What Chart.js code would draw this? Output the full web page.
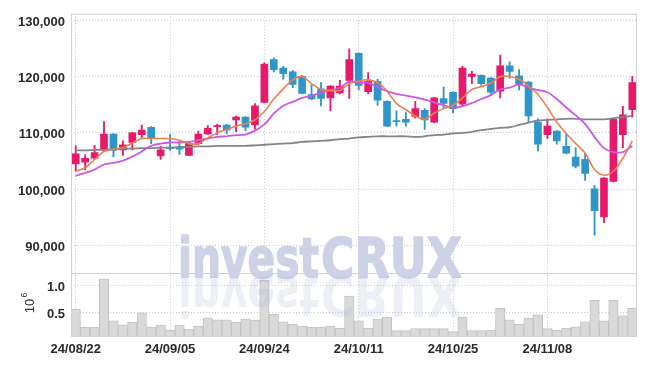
<!DOCTYPE html>
<html>
<head>
<meta charset="utf-8">
<script src="https://cdn.jsdelivr.net/npm/chart.js@4.4.1/dist/chart.umd.min.js"></script>
<style>
    html, body { margin: 0; padding: 0; background: #ffffff; }
    #wrap { width: 645px; height: 366px; }
</style>
</head>
<body>
<div id="wrap"><canvas id="stockChart" width="645" height="366"></canvas></div>
<script>
const dates = [
    "24/08/22","24/08/23","24/08/26","24/08/27","24/08/28","24/08/29","24/08/30","24/09/02","24/09/03","24/09/04",
    "24/09/05","24/09/06","24/09/09","24/09/10","24/09/11","24/09/12","24/09/13","24/09/19","24/09/20","24/09/23",
    "24/09/24","24/09/25","24/09/26","24/09/27","24/09/30","24/10/02","24/10/04","24/10/07","24/10/08","24/10/10",
    "24/10/11","24/10/14","24/10/15","24/10/16","24/10/17","24/10/18","24/10/21","24/10/22","24/10/23","24/10/24",
    "24/10/25","24/10/28","24/10/29","24/10/30","24/10/31","24/11/01","24/11/04","24/11/05","24/11/06","24/11/07",
    "24/11/08","24/11/11","24/11/12","24/11/13","24/11/14","24/11/15","24/11/18","24/11/19","24/11/20","24/11/21"
];

const opens = [
    104500,104800,105500,107200,109800,107000,108300,109700,111000,105900,
    107400,107400,106000,108100,109800,111100,111400,112300,112800,111400,
    115400,123000,121500,120800,120000,116800,117800,116200,117100,119300,
    124100,117300,119100,115600,112200,112400,112900,114000,111900,116100,
    117200,115100,120000,120200,119700,117400,121900,120100,119000,111900,
    109700,110300,107600,105700,105300,100100,95100,101400,109700,114100
];
const highs = [
    107700,106100,107800,112000,109900,108600,110100,111400,111100,107600,
    109700,108700,108400,110300,111300,111500,111500,113000,112900,115200,
    122400,123300,121800,121100,120200,118500,118900,118400,119300,124900,
    124200,120700,119500,115700,113900,113600,115600,114300,116300,118100,
    117300,121800,120900,120300,119800,123800,122600,121200,119100,112500,
    112500,110400,109900,107400,106400,100700,102100,112500,114700,120000
];
const lows = [
    103200,103500,105300,106700,105800,106000,107000,109000,108100,105300,
    106900,106200,106000,107900,109700,109700,109800,110200,110400,110700,
    115300,120800,119500,118000,116900,115900,114800,113900,116900,116100,
    117600,116900,114900,111100,111200,111200,112600,110600,111800,114300,
    113600,114700,118700,118400,116800,116200,119700,117600,111900,106800,
    109000,108000,106300,103800,101600,91900,94100,101300,107400,112800
];
const closes = [
    106300,105500,106500,109800,106900,107900,110000,110500,109000,107000,
    107200,107100,108100,109800,110800,111300,110500,112800,111000,114800,
    122200,121200,120500,118600,117000,116000,116100,118300,118300,123000,
    118400,119200,115800,111200,112000,111900,114300,112300,116200,115200,
    114300,121500,120400,118700,117200,121900,120900,118600,113000,108000,
    111200,108600,106400,104100,102800,96200,102000,112400,113200,118900
];
const volumes = [
    555000,225000,225000,1120000,340000,267000,317000,487000,225000,262000,
    170000,262000,189000,244000,390000,360000,360000,317000,372000,353000,
    1090000,463000,322000,280000,244000,225000,225000,244000,207000,800000,
    340000,207000,372000,408000,158000,158000,194000,194000,194000,194000,
    139000,408000,158000,158000,170000,573000,360000,280000,390000,450000,
    194000,170000,207000,230000,322000,720000,340000,720000,432000,573000
];

// moving averages
const ma5 = [
    103200,103800,105300,106700,107100,107400,108200,109000,109000,109000,
    109000,108700,108100,108100,109100,110000,110600,111200,111600,112300,
    113800,116000,117800,119400,120000,118700,117700,117500,117500,118700,
    119200,119400,118900,117400,115200,114100,113000,112400,113500,114300,
    114900,116200,117700,118200,118800,120000,120000,119500,118300,116800,
    114500,111900,109900,108100,106400,103500,102500,103200,105500,108600
];
const ma20 = [
    102400,102900,103500,104400,104700,105100,105800,106700,107700,108100,
    108300,108300,108400,108700,109000,109300,109400,109600,109700,110400,
    111500,113400,114800,115500,116200,116600,117100,117600,118000,119100,
    118900,118900,118100,117400,116900,116600,116300,115900,115400,114900,
    114500,114700,115300,116000,116700,117700,118000,118600,118000,117600,
    117200,116000,114500,113100,111600,109300,107300,106600,106600,107700
];
const ma60 = [
    106900,106900,107000,107000,107100,107200,107200,107300,107300,107400,
    107400,107500,107500,107600,107600,107700,107700,107700,107700,107800,
    107900,108000,108100,108200,108400,108500,108600,108700,108900,109000,
    109200,109300,109400,109400,109400,109400,109300,109400,109600,109700,
    109900,110000,110200,110500,110700,110900,111000,111400,111800,112200,
    112300,112400,112500,112500,112400,112400,112400,112600,112800,113000
];

const priceTicks = [90000, 100000, 110000, 120000, 130000];
const volumeTicks = [500000, 1000000];

const upColor = "#e8196b";
const downColor = "#2f96c9";
const gridColor = "#c4c7da";
const labelFont = "'Liberation Sans Narrow', 'Liberation Sans', Arial, sans-serif";
const markFont = "bold 56px 'DejaVu Sans', 'Liberation Sans', sans-serif";

const candleColors = closes.map((c, i) => c >= opens[i] ? upColor : downColor);

function drawFitted(ctx, text, x, width, baseline, outline)
{
    const natural = ctx.measureText(text).width;
    ctx.save();
    ctx.translate(x, baseline);
    ctx.scale(width / natural, 1);
    ctx.fillText(text, 0, 0);
    if(outline)
    {
        ctx.strokeText(text, 0, 0);
    }
    ctx.restore();
}

const decorPlugin = {
    id: "decor",
    afterDatasetsDraw(chart) {
        const ctx = chart.ctx;
        const area = chart.chartArea;
        const base = chart.scales.y.bottom + 4;
        const left = area.left + 107;

        ctx.save();
        ctx.font = markFont;
        ctx.textBaseline = "alphabetic";

        // watermark
        ctx.fillStyle = "#cdd2e7";
        ctx.strokeStyle = "#cdd2e7";
        ctx.lineWidth = 1.5;
        ctx.lineJoin = "round";
        drawFitted(ctx, "invest", left, 141, base, true);
        drawFitted(ctx, "CRUX", left + 143, 141, base, true);

        // mirrored reflection
        ctx.save();
        ctx.beginPath();
        ctx.rect(area.left, base, area.right - area.left, area.bottom - base);
        ctx.clip();
        ctx.translate(0, base * 2);
        ctx.scale(1, -1);
        const fade = ctx.createLinearGradient(0, base, 0, base - 46);
        fade.addColorStop(0, "rgba(165,175,215,0.45)");
        fade.addColorStop(1, "rgba(165,175,215,0.2)");
        ctx.fillStyle = fade;
        drawFitted(ctx, "invest", left, 141, base, false);
        drawFitted(ctx, "CRUX", left + 143, 141, base, false);
        ctx.restore();
        ctx.restore();
    },
    afterDraw(chart) {
        const ctx = chart.ctx;
        const area = chart.chartArea;
        const vol = chart.scales.vol;

        ctx.save();
        ctx.strokeStyle = "#d2d2d2";
        ctx.lineWidth = 1;
        ctx.strokeRect(area.left + 0.5, area.top + 0.5, area.right - area.left - 1, area.bottom - area.top - 1);
        ctx.beginPath();
        ctx.moveTo(area.left, Math.round(vol.top) + 0.5);
        ctx.lineTo(area.right, Math.round(vol.top) + 0.5);
        ctx.stroke();

        // volume unit
        ctx.translate(30, (vol.top + vol.bottom) / 2 - 2);
        ctx.rotate(-Math.PI / 2);
        ctx.fillStyle = "#333333";
        ctx.textAlign = "center";
        ctx.textBaseline = "middle";
        ctx.font = "13px 'Liberation Sans', Arial, sans-serif";
        ctx.fillText("10", -3, 0);
        ctx.font = "9px 'Liberation Sans', Arial, sans-serif";
        ctx.fillText("6", 8, -5);
        ctx.restore();
    }
};

const ctx = document.getElementById("stockChart").getContext("2d");

const chart = new Chart(ctx, {
    type: "bar",
    data: {
        labels: dates,
        datasets: [
            {
                type: "line",
                label: "MA5",
                data: ma5,
                yAxisID: "y",
                borderColor: "#ef7f4c",
                borderWidth: 1.6,
                pointRadius: 0,
                tension: 0.3,
                order: 0
            },
            {
                type: "line",
                label: "MA20",
                data: ma20,
                yAxisID: "y",
                borderColor: "#cc58e8",
                borderWidth: 1.8,
                pointRadius: 0,
                tension: 0.3,
                order: 0
            },
            {
                type: "line",
                label: "MA60",
                data: ma60,
                yAxisID: "y",
                borderColor: "#848484",
                borderWidth: 1.8,
                pointRadius: 0,
                tension: 0.3,
                order: 0
            },
            {
                label: "Body",
                data: opens.map((o, i) => [o, closes[i]]),
                yAxisID: "y",
                backgroundColor: candleColors,
                barThickness: 7,
                grouped: false,
                order: 1
            },
            {
                label: "Wick",
                data: lows.map((l, i) => [l, highs[i]]),
                yAxisID: "y",
                backgroundColor: candleColors,
                barThickness: 1.2,
                grouped: false,
                order: 2
            },
            {
                label: "Volume",
                data: volumes,
                yAxisID: "vol",
                backgroundColor: "#d9d9d9",
                borderColor: "#c3c3c3",
                borderWidth: 1,
                barPercentage: 1,
                categoryPercentage: 1,
                grouped: false,
                order: 3
            }
        ]
    },
    options: {
        responsive: false,
        animation: false,
        layout: { padding: { top: 10, right: 8, left: 0, bottom: 0 } },
        plugins: {
            legend: { display: false },
            tooltip: { enabled: false }
        },
        scales: {
            x: {
                type: "category",
                offset: true,
                grid: {
                    offset: false,
                    drawTicks: false,
                    color: c => c.index % 10 === 0 ? gridColor : "transparent"
                },
                border: { display: false, dash: [1, 2] },
                ticks: {
                    autoSkip: false,
                    maxRotation: 0,
                    padding: 5,
                    color: "#2a2a2a",
                    font: { family: labelFont, size: 13, weight: "bold" },
                    callback: function(v, i) {
                        return i % 10 === 0 ? this.getLabelForValue(v) : "";
                    }
                },
                afterFit: s => { s.height = 29; }
            },
            y: {
                position: "left",
                stack: "panes",
                stackWeight: 262.6,
                weight: 1,
                min: 85200,
                max: 131100,
                afterBuildTicks: s => { s.ticks = priceTicks.map(v => ({ value: v })); },
                grid: { color: gridColor, drawTicks: false },
                border: { display: false, dash: [1, 2] },
                ticks: {
                    padding: 6,
                    labelOffset: 2,
                    color: "#2a2a2a",
                    font: { family: labelFont, size: 13, weight: "bold" },
                    callback: v => v.toLocaleString("en-US")
                },
                afterFit: s => { s.width = 71; }
            },
            vol: {
                position: "left",
                stack: "panes",
                stackWeight: 65,
                weight: 0,
                min: 40000,
                max: 1230000,
                afterBuildTicks: s => { s.ticks = volumeTicks.map(v => ({ value: v })); },
                grid: { color: gridColor, drawTicks: false },
                border: { display: false, dash: [1, 2] },
                ticks: {
                    padding: 6,
                    labelOffset: 2,
                    color: "#2a2a2a",
                    font: { family: labelFont, size: 13, weight: "bold" },
                    callback: v => (v / 1000000).toFixed(1)
                },
                afterFit: s => { s.width = 71; }
            }
        }
    },
    plugins: [decorPlugin]
});
</script>
</body>
</html>
